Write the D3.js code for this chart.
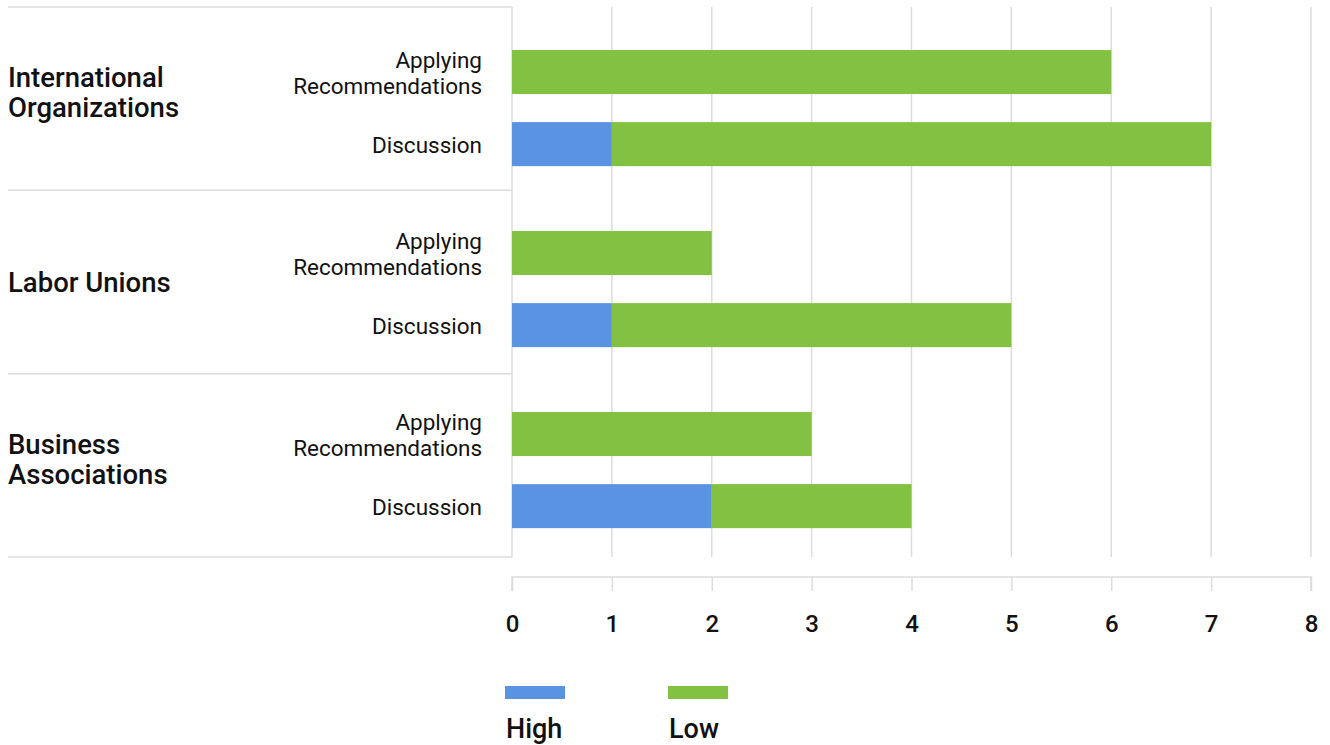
<!DOCTYPE html>
<html>
<head>
<meta charset="utf-8">
<script src="https://cdn.jsdelivr.net/npm/d3@7"></script>
<style>
  html, body { margin: 0; padding: 0; background: #fff; }
  svg { display: block; font-family: Roboto, "Noto Sans", sans-serif; }
</style>
</head>
<body>
<svg id="chart" width="1330" height="745"></svg>
<script>
// Organisation groups and activity types
const groups = ["International Organizations", "Labor Unions", "Business Associations"];
const groupLines = [["International", "Organizations"], ["Labor Unions"], ["Business", "Associations"]];
const activities = ["Applying Recommendations", "Discussion"];
const activityLines = [["Applying", "Recommendations"], ["Discussion"]];

// Counts per group, in activity order
const highValues = [[0, 1], [0, 1], [0, 2]];
const lowValues  = [[6, 6], [2, 4], [3, 2]];

const seriesNames = ["High", "Low"];
const seriesColors = ["#5b93e3", "#82c141"];
const xTicks = [0, 1, 2, 3, 4, 5, 6, 7, 8];

const svg = d3.select("#chart");
const plotTop = 7, plotBottom = 557, tableLeft = 8;
const gridColor = "#dcdcdc";

const x = d3.scaleLinear().domain([0, 8]).range([512, 1311]);
// Table rows (separators and group labels)
const yGroup = d3.scaleBand().domain(groups).range([plotTop, plotBottom]).padding(0);
// Bar blocks per group
const yBlock = d3.scaleBand().domain(groups).range([9.8, 552.8]).padding(0);
const ySub = d3.scaleBand().domain(activities)
  .range([0, yBlock.bandwidth()])
  .paddingInner(0.389).paddingOuter(0.45).align(0.62);

// Vertical gridlines
svg.append("g").selectAll("line").data(xTicks).join("line")
  .attr("x1", d => x(d)).attr("x2", d => x(d))
  .attr("y1", plotTop).attr("y2", plotBottom)
  .attr("stroke", gridColor).attr("stroke-width", 1.5);

// Row separators of the label table
const bounds = groups.map(g => yGroup(g)).concat([plotBottom]);
svg.append("g").selectAll("line").data(bounds).join("line")
  .attr("x1", tableLeft).attr("x2", x(0))
  .attr("y1", d => d).attr("y2", d => d)
  .attr("stroke", gridColor).attr("stroke-width", 1.5);

// Stacked bars
const rows = [];
groups.forEach((g, gi) => activities.forEach((a, ai) => {
  rows.push({ g, a, gi, ai, high: highValues[gi][ai], low: lowValues[gi][ai] });
}));
const stacked = d3.stack().keys(["high", "low"])(rows);
const barLayer = svg.append("g");
stacked.forEach((layer, li) => {
  barLayer.append("g").attr("fill", seriesColors[li])
    .selectAll("rect").data(layer.filter(d => d[1] > d[0])).join("rect")
    .attr("x", d => x(d[0]))
    .attr("width", d => x(d[1]) - x(d[0]))
    .attr("y", d => yBlock(d.data.g) + ySub(d.data.a))
    .attr("height", ySub.bandwidth());
});

// Activity labels
const subSize = 22.5, subLH = 26.5;
rows.forEach(r => {
  const lines = activityLines[r.ai];
  const cy = yBlock(r.g) + ySub(r.a) + ySub.bandwidth() / 2;
  const t = svg.append("text")
    .attr("text-anchor", "end")
    .attr("font-size", subSize).attr("fill", "#111");
  lines.forEach((ln, i) => {
    t.append("tspan").attr("x", 482)
      .attr("y", cy + (i - (lines.length - 1) / 2) * subLH + subSize * 0.355 + 1)
      .text(ln);
  });
});

// Group labels
const grpSize = 27.5, grpLH = 30;
groups.forEach((g, gi) => {
  const lines = groupLines[gi];
  const cy = yGroup(g) + yGroup.bandwidth() / 2 - (lines.length - 1) * 6.5;
  const t = svg.append("text").attr("font-size", grpSize)
    .attr("font-weight", 500).attr("fill", "#111");
  lines.forEach((ln, i) => {
    t.append("tspan").attr("x", tableLeft)
      .attr("y", cy + (i - (lines.length - 1) / 2) * grpLH + grpSize * 0.355)
      .text(ln);
  });
});

// Bottom axis
const axisY = 577;
const axis = svg.append("g").attr("transform", `translate(0,${axisY})`)
  .call(d3.axisBottom(x).tickValues(xTicks).tickFormat(d3.format("d")).tickSize(14).tickPadding(24));
axis.select(".domain").attr("stroke", gridColor).attr("stroke-width", 1.5)
  .attr("d", `M${x(0)},14V0H${x(8)}V14`);
axis.selectAll(".tick line").attr("stroke", gridColor).attr("stroke-width", 1.5);
axis.selectAll(".tick text").attr("font-size", 24).attr("font-weight", 500)
  .attr("fill", "#111").attr("font-family", "Roboto, sans-serif");

// Legend
const legend = svg.append("g");
const legendX = [505, 668];
seriesNames.forEach((s, i) => {
  legend.append("rect").attr("x", legendX[i]).attr("y", 686)
    .attr("width", 60).attr("height", 13).attr("fill", seriesColors[i]);
  legend.append("text").attr("x", legendX[i] + 1).attr("y", 737.5)
    .attr("font-size", 27).attr("font-weight", 500).attr("fill", "#111").text(s);
});
</script>
</body>
</html>
